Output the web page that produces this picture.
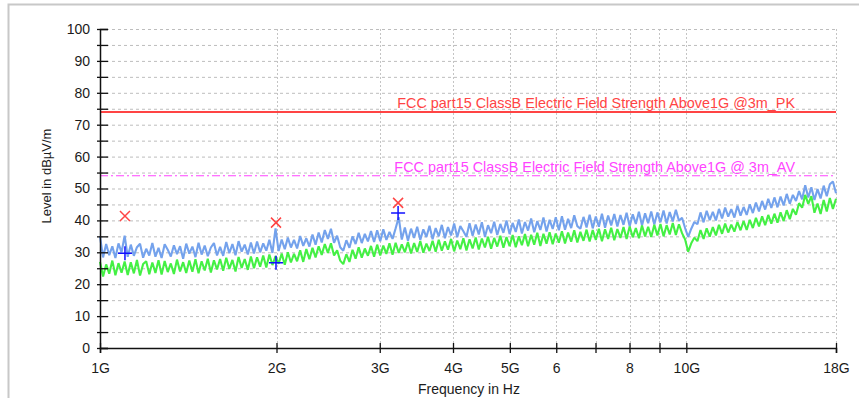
<!DOCTYPE html>
<html>
<head>
<meta charset="utf-8">
<script src="https://cdn.jsdelivr.net/npm/d3@7"></script>
<style>
  body { margin: 0; background: #fff; }
  text { font-family: "Liberation Sans", Arial, sans-serif; }
</style>
</head>
<body>
<div id="chart"></div>
<script>
// axis ticks
const yTickValues = [0, 5, 10, 15, 20, 25, 30, 35, 40, 45, 50, 55, 60, 65, 70, 75, 80, 85, 90, 95, 100];
const yTickLabels = ["0", "", "10", "", "20", "", "30", "", "40", "", "50", "", "60", "", "70", "", "80", "", "90", "", "100"];
const xTickValues = [1e9, 2e9, 3e9, 4e9, 5e9, 6e9, 7e9, 8e9, 9e9, 10e9, 18e9];
const xTickLabels = ["1G", "2G", "3G", "4G", "5G", "6", "", "8", "", "10G", "18G"];

// limit lines
const limitNames = [
  "FCC part15 ClassB Electric Field Strength Above1G @3m_PK",
  "FCC part15 ClassB Electric Field Strength Above1G @ 3m_AV",
];
const limitValues = [74, 54];

// final measurement points
const peakMarkFreq = [1.103e9, 1.996e9, 3.224e9];
const peakMarkLevel = [41.4, 39.3, 45.5];
const avgMarkFreq = [1.103e9, 1.996e9, 3.224e9];
const avgMarkLevel = [29.7, 26.7, 42.3];

// sweep, 1 GHz .. 18 GHz (peak detector, blue)
const peakTrace = [
  35.0, 28.4, 32.6, 29.1, 31.9, 28.2, 32.8, 30.0, 35.2, 28.6,
  32.4, 28.9, 31.6, 32.7, 28.3, 31.1, 29.0, 32.9, 28.6, 31.4,
  28.2, 32.5, 30.8, 28.7, 32.2, 29.4, 31.9, 28.0, 32.7, 29.6,
  31.8, 28.5, 33.0, 29.3, 32.1, 28.8, 31.5, 32.9, 29.0, 31.7,
  28.9, 33.2, 29.7, 32.6, 29.1, 33.5, 30.2, 32.4, 29.3, 33.1,
  29.6, 33.4, 30.0, 32.8, 30.5, 33.9, 29.8, 37.5, 30.4, 34.0,
  31.0, 34.6, 31.5, 33.9, 31.2, 35.1, 32.0, 34.4, 31.8, 35.6,
  32.4, 36.2, 33.1, 37.0, 34.2, 37.4, 33.0, 35.2, 31.6, 30.5,
  33.8, 31.4, 35.0, 32.6, 36.1, 32.9, 35.8, 33.4, 36.7, 33.2,
  36.9, 33.5, 37.2, 33.9, 36.4, 34.2, 37.5, 41.0, 34.0, 37.8,
  33.6, 37.4, 34.5, 38.0, 33.9, 37.2, 34.8, 38.3, 34.1, 37.6,
  35.0, 38.6, 34.4, 37.9, 35.3, 39.0, 34.7, 38.2, 36.6, 34.9,
  39.1, 35.2, 38.7, 35.6, 39.4, 34.9, 38.5, 36.0, 39.6, 35.4,
  38.9, 36.1, 40.0, 35.7, 39.2, 36.4, 40.3, 35.9, 39.5, 36.8,
  40.6, 36.3, 39.8, 37.0, 40.9, 36.5, 40.2, 37.3, 41.0, 36.9,
  41.3, 37.1, 40.5, 37.6, 41.6, 38.2, 37.4, 41.1, 37.8, 41.8,
  37.5, 41.2, 38.0, 42.1, 37.7, 41.5, 38.4, 42.0, 38.1, 41.7,
  38.6, 42.4, 38.2, 41.9, 38.9, 42.7, 38.4, 42.2, 39.1, 42.8,
  38.7, 42.5, 39.4, 43.1, 39.0, 42.6, 39.7, 43.3, 39.9, 40.8,
  37.6, 34.8, 37.4, 39.5, 38.8, 42.5, 39.4, 43.0, 40.1, 42.7,
  40.0, 43.6, 40.6, 44.0, 41.2, 43.5, 40.9, 44.6, 41.5, 44.2,
  41.7, 45.0, 42.3, 45.6, 42.8, 46.1, 43.4, 46.8, 43.9, 47.2,
  44.1, 47.5, 44.7, 48.3, 45.2, 48.0, 46.1, 49.2, 46.6, 51.0,
  47.2, 50.4, 46.4, 49.8, 46.9, 50.9, 47.6, 51.3, 52.2, 48.5,
];

// sweep, 1 GHz .. 18 GHz (average detector, green)
const avgTrace = [
  27.0, 22.4, 26.2, 23.3, 27.4, 22.8, 26.6, 23.6, 27.1, 22.9,
  26.9, 23.4, 27.6, 22.7, 26.3, 27.2, 23.1, 26.8, 23.5, 27.5,
  23.0, 27.3, 23.8, 26.5, 23.2, 27.7, 24.0, 26.9, 23.5, 27.4,
  23.9, 27.8, 23.4, 27.2, 24.3, 28.0, 23.7, 27.5, 24.6, 27.9,
  24.2, 28.3, 24.8, 27.6, 24.0, 28.5, 25.1, 27.9, 24.5, 28.7,
  25.0, 28.4, 25.5, 29.0, 25.2, 29.3, 26.0, 28.8, 26.4, 29.6,
  26.1, 30.0, 26.8, 29.5, 27.2, 30.6, 27.0, 31.0, 27.8, 31.4,
  28.4, 31.9, 29.2, 32.6, 29.8, 32.8, 29.0, 30.6, 27.4, 26.3,
  29.4, 27.0, 30.8, 28.0, 31.6, 28.3, 31.2, 28.9, 32.0, 28.6,
  32.4, 29.0, 32.1, 29.5, 32.8, 29.2, 33.0, 29.8, 32.5, 30.0,
  33.2, 29.6, 32.9, 30.1, 33.5, 29.9, 32.7, 30.4, 33.6, 30.2,
  33.9, 30.5, 33.4, 30.8, 34.2, 30.3, 33.7, 31.0, 34.4, 30.6,
  34.1, 31.2, 34.6, 30.9, 34.3, 31.5, 34.9, 31.1, 34.5, 31.8,
  35.2, 31.4, 34.8, 31.9, 35.4, 31.6, 35.0, 32.2, 35.7, 31.9,
  35.5, 32.4, 36.1, 32.0, 35.8, 32.7, 36.3, 32.5, 35.9, 33.0,
  36.6, 32.8, 36.2, 33.3, 36.9, 33.1, 36.4, 33.6, 37.1, 33.4,
  37.0, 33.9, 37.4, 33.5, 37.2, 34.2, 37.7, 33.8, 37.3, 34.5,
  37.9, 34.2, 38.1, 34.7, 37.6, 34.4, 38.4, 35.0, 38.0, 34.8,
  38.6, 35.3, 38.9, 35.0, 38.5, 35.6, 39.2, 35.4, 38.8, 36.0,
  34.0, 30.2, 32.8, 34.6, 33.5, 37.0, 34.2, 37.5, 34.9, 37.9,
  35.3, 38.6, 35.8, 39.0, 36.2, 38.7, 36.5, 39.5, 36.9, 39.8,
  37.0, 40.2, 37.6, 40.8, 38.1, 41.3, 38.5, 41.7, 39.0, 42.1,
  39.3, 42.5, 39.8, 43.2, 40.4, 43.6, 41.8, 45.4, 44.0, 48.0,
  45.2, 47.6, 42.4, 45.3, 42.0, 46.4, 42.8, 47.0, 43.6, 46.8,
];

const width = 859;
const height = 398;
const margin = { left: 100, right: 23, top: 29, bottom: 50 };

const svg = d3
  .select("#chart")
  .append("svg")
  .attr("width", width)
  .attr("height", height);

// outer frame of the report page
svg
  .append("rect")
  .attr("x", 8.5)
  .attr("y", 4.5)
  .attr("width", width + 20)
  .attr("height", height + 20)
  .attr("fill", "none")
  .attr("stroke", "#c8c8c8")
  .attr("stroke-width", 2);

const x = d3
  .scaleLog()
  .domain([1e9, 18e9])
  .range([margin.left, width - margin.right]);
const y = d3
  .scaleLinear()
  .domain([0, 100])
  .range([height - margin.bottom, margin.top]);

// grid
const grid = svg.append("g").attr("class", "grid");
grid
  .selectAll("line.h")
  .data(yTickValues.filter((d) => d > 0))
  .join("line")
  .attr("class", "h")
  .attr("x1", x(1e9))
  .attr("x2", x(18e9))
  .attr("y1", (d) => y(d) + 0.5)
  .attr("y2", (d) => y(d) + 0.5)
  .attr("stroke", "#bdbdbd")
  .attr("stroke-dasharray", "3,3");
grid
  .selectAll("line.v")
  .data(xTickValues.slice(1))
  .join("line")
  .attr("class", "v")
  .attr("x1", (d) => Math.round(x(d)) + 0.5)
  .attr("x2", (d) => Math.round(x(d)) + 0.5)
  .attr("y1", y(100))
  .attr("y2", y(0))
  .attr("stroke", "#c4c4c4")
  .attr("stroke-dasharray", "2,2");

// limit lines
const limitColors = ["#ff4444", "#ff44ff"];
svg
  .append("g")
  .attr("class", "limits")
  .selectAll("line")
  .data(limitValues)
  .join("line")
  .attr("x1", x(1e9))
  .attr("x2", x(18e9))
  .attr("y1", (d) => y(d))
  .attr("y2", (d) => y(d))
  .attr("stroke", (d, i) => limitColors[i])
  .attr("stroke-width", (d, i) => (i === 0 ? 2 : 1.2))
  .attr("stroke-dasharray", (d, i) => (i === 0 ? null : "8,3,2,3"));

svg
  .append("g")
  .attr("class", "limit-names")
  .selectAll("text")
  .data(limitNames)
  .join("text")
  .attr("x", 795)
  .attr("y", (d, i) => y(limitValues[i]) - 4)
  .attr("text-anchor", "end")
  .style("font-size", "14.4px")
  .attr("fill", (d, i) => limitColors[i])
  .text((d) => d);

// traces: one sweep point per entry, spread over the log axis
const sweepLine = (values) =>
  d3
    .line()
    .x((d, i) => x(1e9 * Math.pow(18, i / (values.length - 1))))
    .y((d) => y(d))(values);

svg
  .append("path")
  .attr("d", sweepLine(peakTrace))
  .attr("fill", "none")
  .attr("stroke", "#74a2ec")
  .attr("stroke-width", 2.1)
  .attr("stroke-linejoin", "bevel");

svg
  .append("path")
  .attr("d", sweepLine(avgTrace))
  .attr("fill", "none")
  .attr("stroke", "#44f044")
  .attr("stroke-width", 2.1)
  .attr("stroke-linejoin", "bevel");

// final points
svg
  .append("g")
  .selectAll("path")
  .data(peakMarkFreq)
  .join("path")
  .attr("transform", (d, i) => `translate(${x(d)},${y(peakMarkLevel[i])})`)
  .attr("d", "M-5,-5L5,5M-5,5L5,-5")
  .attr("stroke", "#ff4444")
  .attr("stroke-width", 1.5);

svg
  .append("g")
  .selectAll("path")
  .data(avgMarkFreq)
  .join("path")
  .attr("transform", (d, i) => `translate(${x(d)},${y(avgMarkLevel[i])})`)
  .attr("d", "M-7,0L7,0M0,-7L0,7")
  .attr("stroke", "#1010ff")
  .attr("stroke-width", 1.5);

// axes
const yAxis = d3
  .axisLeft(y)
  .tickValues(yTickValues)
  .tickFormat((d, i) => yTickLabels[i])
  .tickSize(-8)
  .tickPadding(10);
const gy = svg
  .append("g")
  .attr("transform", `translate(${x(1e9)},0)`)
  .call(yAxis);
gy.select(".domain").attr("stroke", "#111").attr("stroke-width", 1.5);
gy.selectAll(".tick line").attr("x1", -3).attr("stroke", "#111").attr("stroke-width", 1.3);
gy.selectAll(".tick text").style("font-size", "14px").attr("fill", "#1b1b1b");

const xAxis = d3
  .axisBottom(x)
  .tickValues(xTickValues)
  .tickFormat((d, i) => xTickLabels[i])
  .tickSize(5)
  .tickPadding(10);
const gx = svg
  .append("g")
  .attr("transform", `translate(0,${y(0)})`)
  .call(xAxis);
gx.select(".domain").attr("stroke", "#111").attr("stroke-width", 1.5);
gx.selectAll(".tick line").attr("y1", -5).attr("stroke", "#111").attr("stroke-width", 1.3);
gx.selectAll(".tick text").style("font-size", "14px").attr("fill", "#1b1b1b");

// axis titles
svg
  .append("text")
  .attr("transform", `translate(51,176) rotate(-90)`)
  .attr("text-anchor", "middle")
  .style("font-size", "13px")
  .attr("fill", "#1b1b1b")
  .text("Level in dBµV/m");

svg
  .append("text")
  .attr("x", 469)
  .attr("y", 394)
  .attr("text-anchor", "middle")
  .style("font-size", "14px")
  .attr("fill", "#1b1b1b")
  .text("Frequency in Hz");
</script>
</body>
</html>
